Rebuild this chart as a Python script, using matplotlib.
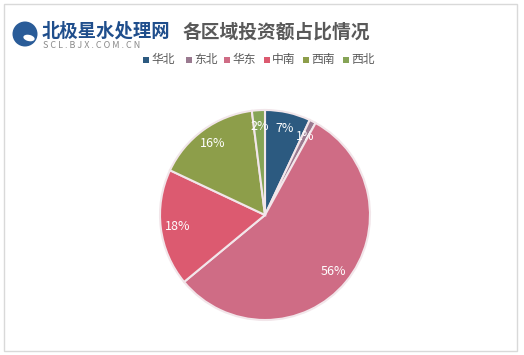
import matplotlib.pyplot as plt
from matplotlib.patches import Rectangle, Ellipse

plt.rcParams['font.family'] = ['Noto Sans CJK SC', 'DejaVu Sans']

regions = ['华北', '东北', '华东', '中南', '西南', '西北']
shares = [7, 1, 56, 18, 16, 2]
colors = ['#2C5A80', '#9A7A90', '#CF6C85', '#DC5A70', '#8D9E4A', '#86A456']

W, H = 524, 355
fig = plt.figure(figsize=(W / 100, H / 100), dpi=100)

# outer frame
fig.patches.append(Rectangle((4 / W, 4 / H), 513 / W, 347 / H, transform=fig.transFigure,
                             fill=False, edgecolor='#D9D9D9', linewidth=1))

# logo
fig.patches.append(Ellipse((25 / W, 1 - 34 / H), 25 / W, 25 / H, transform=fig.transFigure,
                           facecolor='#2A5C98', edgecolor='none'))
fig.patches.append(Ellipse((29 / W, 1 - 38 / H), 12 / W, 6 / H, angle=-30, transform=fig.transFigure,
                           facecolor='white', edgecolor='none'))
fig.text(42 / W, 1 - 31 / H, '北极星水处理网', fontsize=13.2, fontweight='bold', color='#1F4E8C',
         va='center', ha='left', fontstyle='italic')
fig.text(43 / W, 1 - 46 / H, 'S C L . B J X . C O M . C N', fontsize=6.5, color='#8A8A8A',
         va='center', ha='left')

# title
fig.text(183 / W, 1 - 32 / H, '各区域投资额占比情况', fontsize=13.5, fontweight='bold', color='#595959',
         va='center', ha='left')

# legend
leg_x = [146, 189, 227, 267, 306, 346]
for x, name, c in zip(leg_x, regions, colors):
    fig.patches.append(Rectangle(((x - 3) / W, 1 - 63 / H), 6 / W, 6 / H,
                                 transform=fig.transFigure, facecolor=c, edgecolor='none'))
    fig.text((x + 5) / W, 1 - 60 / H, name, fontsize=8.5, color='#595959', va='center', ha='left')

# pie
cx, cy, r = 265, 215, 105
ax = fig.add_axes([(cx - r) / W, (H - cy - r) / H, 2 * r / W, 2 * r / H])
wedges, texts, autotexts = ax.pie(shares, colors=colors, startangle=90, counterclock=False,
                                  autopct='%d%%', pctdistance=0.84,
                                  wedgeprops=dict(edgecolor='#F2E6EA', linewidth=1.5),
                                  textprops=dict(color='white', fontsize=9))
ax.set_xlim(-1, 1)
ax.set_ylim(-1, 1)
ax.set_aspect('equal')
ax.axis('off')

fig.savefig('out.png', dpi=100)
